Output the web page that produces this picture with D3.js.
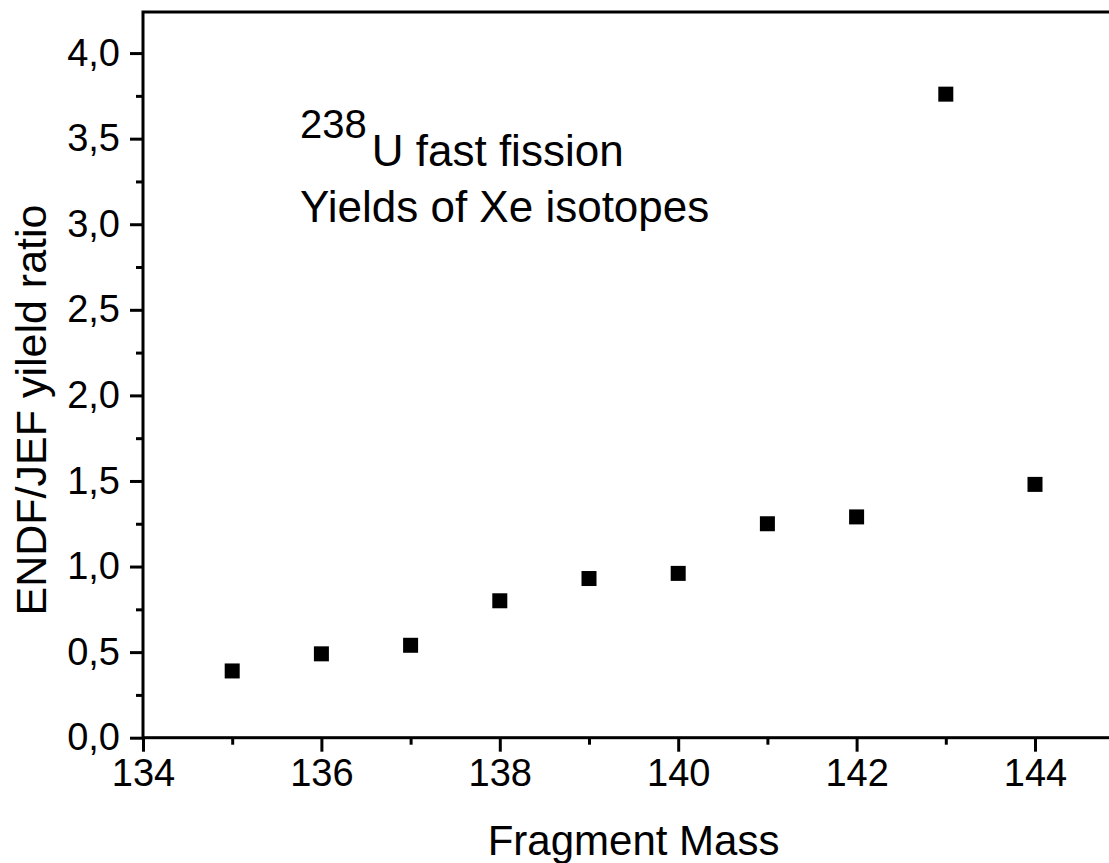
<!DOCTYPE html>
<html>
<head>
<meta charset="utf-8">
<script src="https://cdn.jsdelivr.net/npm/d3@7/dist/d3.min.js"></script>
<style>
  body { margin: 0; background: #fff; }
  svg { display: block; font-family: "Liberation Sans", Arial, sans-serif; }
  .axis text { fill: #000; }
</style>
</head>
<body>
<div id="chart"></div>
<script>
// fragment masses and ENDF/JEF yield ratios
var masses = [135, 136, 137, 138, 139, 140, 141, 142, 143, 144];
var ratios = [0.39, 0.49, 0.54, 0.80, 0.93, 0.96, 1.25, 1.29, 3.76, 1.48];

var xMajor = [134, 136, 138, 140, 142, 144];
var xMinor = [135, 137, 139, 141, 143, 145];
var yMajor = [0, 0.5, 1, 1.5, 2, 2.5, 3, 3.5, 4];
var yMinor = [0.25, 0.75, 1.25, 1.75, 2.25, 2.75, 3.25, 3.75];

var width = 1109, height = 863;
var plotLeft = 143, plotTop = 12, plotBottom = 737.7, plotRight = 1124.2;

var svg = d3.select('#chart').append('svg')
  .attr('width', width)
  .attr('height', height);

var x = d3.scaleLinear().domain([134, 145]).range([plotLeft, plotRight]);
var y = d3.scaleLinear().domain([0, 4.24]).range([plotBottom, plotTop]);

var commaFmt = function(d) { return d3.format('.1f')(d).replace('.', ','); };

// x axis: major ticks with labels, minor ticks without
svg.append('g').attr('class', 'axis')
  .attr('transform', 'translate(0,' + plotBottom + ')')
  .call(d3.axisBottom(x).tickValues(xMajor).tickSize(14).tickPadding(7).tickFormat(d3.format('d')));
svg.append('g').attr('class', 'axis minor')
  .attr('transform', 'translate(0,' + plotBottom + ')')
  .call(d3.axisBottom(x).tickValues(xMinor).tickSize(7).tickFormat(''));

svg.append('g').attr('class', 'axis')
  .attr('transform', 'translate(' + plotLeft + ',0)')
  .call(d3.axisLeft(y).tickValues(yMajor).tickSize(13).tickPadding(10).tickFormat(commaFmt));
svg.append('g').attr('class', 'axis minor')
  .attr('transform', 'translate(' + plotLeft + ',0)')
  .call(d3.axisLeft(y).tickValues(yMinor).tickSize(7).tickFormat(''));

svg.selectAll('.axis .domain').remove();
svg.selectAll('.axis .tick line').attr('stroke', '#000').attr('stroke-width', 3);
svg.selectAll('.axis text').style('font-size', '38px');

// frame
svg.append('rect')
  .attr('x', plotLeft).attr('y', plotTop)
  .attr('width', plotRight - plotLeft).attr('height', plotBottom - plotTop)
  .attr('fill', 'none').attr('stroke', '#000').attr('stroke-width', 3);

// points
var size = 15;
svg.append('g').selectAll('rect.pt')
  .data(masses)
  .enter().append('rect')
  .attr('class', 'pt')
  .attr('x', function(d) { return x(d) - size / 2; })
  .attr('y', function(d, i) { return y(ratios[i]) - size / 2; })
  .attr('width', size)
  .attr('height', size)
  .attr('fill', '#000');

// axis titles
svg.append('text')
  .attr('x', (plotLeft + plotRight) / 2)
  .attr('y', 855)
  .attr('text-anchor', 'middle')
  .style('font-size', '42px')
  .text('Fragment Mass');

svg.append('text')
  .attr('transform', 'translate(46,410) rotate(-90)')
  .attr('text-anchor', 'middle')
  .style('font-size', '43px')
  .text('ENDF/JEF yileld ratio');

// annotation
var note = svg.append('text')
  .attr('x', 300)
  .attr('y', 166)
  .style('font-size', '44px');
note.append('tspan').attr('dy', -28).style('font-size', '40px').text('238');
note.append('tspan').attr('dy', 28).attr('dx', 5).text('U fast fission');

svg.append('text')
  .attr('x', 300)
  .attr('y', 222)
  .style('font-size', '44px')
  .text('Yields of Xe isotopes');
</script>
</body>
</html>
